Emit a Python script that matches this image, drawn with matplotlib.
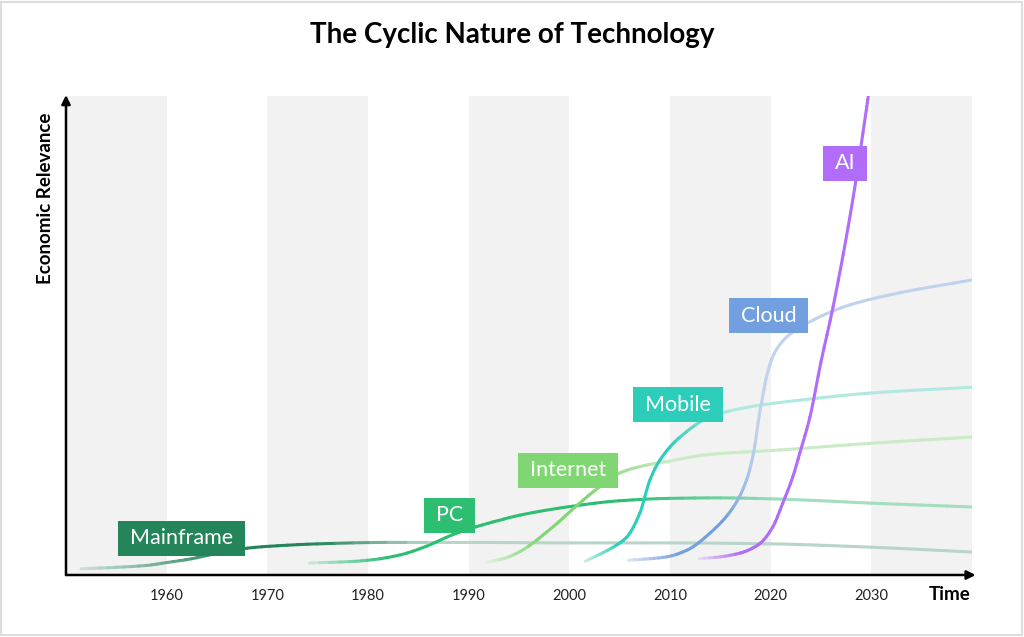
import numpy as np
import matplotlib.pyplot as plt
from matplotlib.colors import to_rgb
from matplotlib.patches import Rectangle, PathPatch
from matplotlib.path import Path

plt.rcParams['font.family'] = ['Lato', 'DejaVu Sans']

# values (x = year, y = relevance 0..100)
mainframe_years = [1951.5, 1955, 1958, 1960, 1962.5, 1964.5, 1966.5, 1968, 1971, 1975, 1982, 1990, 2000, 2010, 2020, 2030, 2040]
mainframe_vals = [1.3, 1.6, 2.0, 2.6, 3.4, 4.3, 5.0, 5.6, 6.1, 6.5, 6.8, 6.8, 6.7, 6.7, 6.5, 5.8, 4.8]

pc_years = [1974.2, 1978.2, 1980.5, 1983.2, 1985.8, 1988.4, 1990.8, 1993, 1995.1, 2000.1, 2005, 2010, 2015, 2020, 2025, 2030, 2035, 2040]
pc_vals = [2.5, 2.8, 3.2, 4.2, 6.0, 8.4, 10.1, 11.4, 12.5, 14.3, 15.5, 16.0, 16.1, 15.9, 15.5, 15.0, 14.6, 14.2]

internet_years = [1991.8, 1993.6, 1995.1, 1998.4, 2000.8, 2003, 2005, 2007.8, 2010, 2013.6, 2020.9, 2030, 2040]
internet_vals = [2.7, 3.5, 4.9, 10.1, 14.6, 18.4, 21.3, 23.0, 23.8, 25.1, 26.1, 27.5, 28.8]

mobile_years = [2001.6, 2003, 2004.5, 2005.7, 2007, 2008, 2009, 2011, 2014, 2017.9, 2022.9, 2030, 2040]
mobile_vals = [2.9, 4.3, 6.0, 7.9, 12.9, 19.8, 24.0, 28.8, 33.0, 35.1, 36.5, 38.0, 39.2]

cloud_years = [2005.9, 2008, 2009.7, 2011.7, 2014, 2016.3, 2017.6, 2018.3, 2018.9, 2019.27, 2019.6, 2020.3, 2021.6, 2024.2, 2027.9, 2032.8, 2040]
cloud_vals = [3.1, 3.4, 3.8, 5.2, 8.8, 14.2, 19.8, 25.5, 33.8, 38.0, 41.5, 46.0, 49.7, 53.2, 56.4, 58.9, 61.6]

ai_years = [2012.9, 2015, 2017, 2018, 2019, 2020.2, 2021.2, 2022.2, 2022.9, 2023.9, 2025, 2026.2, 2028.2, 2029.5, 2029.7]
ai_vals = [3.4, 3.8, 4.6, 5.4, 6.7, 10.0, 15.0, 20.5, 25.5, 33.0, 44.5, 56.0, 78.9, 97.1, 100]

names = ['Mainframe', 'PC', 'Internet', 'Mobile', 'Cloud', 'AI']
label_x = [1961.5, 1988.1, 1999.9, 2010.8, 2019.8, 2027.4]
label_y = [7.7, 12.5, 21.9, 35.5, 54.1, 86.0]
tick_years = [1960, 1970, 1980, 1990, 2000, 2010, 2020, 2030]

series = [(mainframe_years, mainframe_vals), (pc_years, pc_vals),
          (internet_years, internet_vals), (mobile_years, mobile_vals),
          (cloud_years, cloud_vals), (ai_years, ai_vals)]
colors = ['#25855A', '#2EBE72', '#7FD672', '#2CCEB9', '#729FE0', '#B16CF9']
# fade: (start, full, fade start, faded, faded strength)
fades = [(1951.5, 1966, 1975, 1986, 0.3),
         (1974, 1982, 2006, 2022, 0.42),
         (1992, 1997, 2002, 2010, 0.38),
         (2001.5, 2005, 2010, 2016, 0.35),
         (2006, 2011, 2015.5, 2018.7, 0.42),
         (2013, 2017, 2100, 2101, 1.0)]


def strength(x, f):
    a0, a1, b0, b1, amin = f
    if x < a1:
        return 0.2 + 0.8 * np.clip((x - a0) / (a1 - a0), 0, 1)
    if x > b0:
        return 1 - (1 - amin) * np.clip((x - b0) / (b1 - b0), 0, 1)
    return 1.0


def slopes(x, y):
    # monotone cubic tangents, like a smoothed chart line
    h = np.diff(x)
    d = np.diff(y) / h
    m = np.zeros(len(x))
    m[0], m[-1] = d[0], d[-1]
    for i in range(1, len(x) - 1):
        if d[i - 1] * d[i] <= 0:
            m[i] = 0
        else:
            w1, w2 = 2 * h[i] + h[i - 1], h[i] + 2 * h[i - 1]
            m[i] = (w1 + w2) / (w1 / d[i - 1] + w2 / d[i])
    return m


def split(p, t):
    a, b, c, d = p
    ab, bc, cd = a + (b - a) * t, b + (c - b) * t, c + (d - c) * t
    abc, bcd = ab + (bc - ab) * t, bc + (cd - bc) * t
    m = abc + (bcd - abc) * t
    return [a, ab, abc, m], [m, bcd, cd, d]


fig = plt.figure(figsize=(10.24, 6.37), dpi=100)
fig.patches.append(Rectangle((1 / 1024, 2 / 637), 1021 / 1024, 633 / 637,
                             transform=fig.transFigure, fill=False,
                             edgecolor='#dddddd', lw=1.5))
ax = fig.add_axes([66 / 1024, 62 / 637, 906 / 1024, 479 / 637])
ax.set_xlim(1950, 2040)
ax.set_ylim(0, 100)

for start in range(1950, 2040, 20):
    ax.axvspan(start, start + 10, color='#f2f2f2', lw=0, zorder=0)

for k, ((xs, ys), c, f) in enumerate(zip(series, colors, fades)):
    xs, ys = np.array(xs, float), np.array(ys, float)
    m = slopes(xs, ys)
    rgb = np.array(to_rgb(c))
    for i in range(len(xs) - 1):
        h = xs[i + 1] - xs[i]
        bez = [np.array([xs[i], ys[i]]),
               np.array([xs[i] + h / 3, ys[i] + m[i] * h / 3]),
               np.array([xs[i + 1] - h / 3, ys[i + 1] - m[i + 1] * h / 3]),
               np.array([xs[i + 1], ys[i + 1]])]
        rest = bez
        for j in range(4):
            if j < 3:
                piece, rest = split(rest, 1 / (4 - j))
            else:
                piece = rest
            s = strength((piece[0][0] + piece[3][0]) / 2, f)
            col = rgb * s + (1 - s) * np.array([0.97, 0.97, 0.97])
            path = Path(np.array(piece), [Path.MOVETO, Path.CURVE4, Path.CURVE4, Path.CURVE4])
            ax.add_patch(PathPatch(path, fill=False, edgecolor=col, lw=2.2,
                                   capstyle='round', joinstyle='round', zorder=2 + k * 0.1))

texts = []
for name, x, y in zip(names, label_x, label_y):
    texts.append(ax.text(x, y, name, color='white', fontsize=15.5, ha='center',
                         va='center', zorder=5))

for s in ax.spines.values():
    s.set_visible(False)
ax.set_yticks([])
ax.set_xticks(tick_years)
ax.tick_params(axis='x', length=0, pad=10, labelsize=10.5, labelcolor='#222222')

arrow = dict(arrowstyle='-|>', color='black', lw=1.8, mutation_scale=13, shrinkA=0, shrinkB=0)
ax.annotate('', xy=(1.004, 0), xytext=(0, 0), xycoords='axes fraction', arrowprops=arrow, zorder=6)
ax.annotate('', xy=(0, 1.002), xytext=(0, 0), xycoords='axes fraction', arrowprops=arrow, zorder=6)

fig.text(0.5, 1 - 35 / 637, 'The Cyclic Nature of Technology', ha='center', va='center',
         fontsize=20, fontweight='bold')
fig.text(46 / 1024, 1 - 198 / 637, 'Economic Relevance', rotation=90, ha='center', va='center',
         fontsize=13.5, fontweight='bold')
fig.text(950 / 1024, 1 - 595 / 637, 'Time', ha='center', va='center',
         fontsize=13.5, fontweight='bold')

# label boxes: text width plus 12 px each side, 35 px tall
fig.canvas.draw()
renderer = fig.canvas.get_renderer()
inv = ax.transData.inverted()
for t, x, y, c in zip(texts, label_x, label_y, colors):
    bb = t.get_window_extent(renderer)
    cx = (bb.x0 + bb.x1) / 2
    cy = ax.transData.transform((x, y))[1]
    w = bb.width + 24
    (x0, y0), (x1, y1) = inv.transform([(cx - w / 2, cy - 17.5), (cx + w / 2, cy + 17.5)])
    ax.add_patch(Rectangle((x0, y0), x1 - x0, y1 - y0, fc=c, ec='none', zorder=4))

fig.savefig('out.png', dpi=100, facecolor='white')
